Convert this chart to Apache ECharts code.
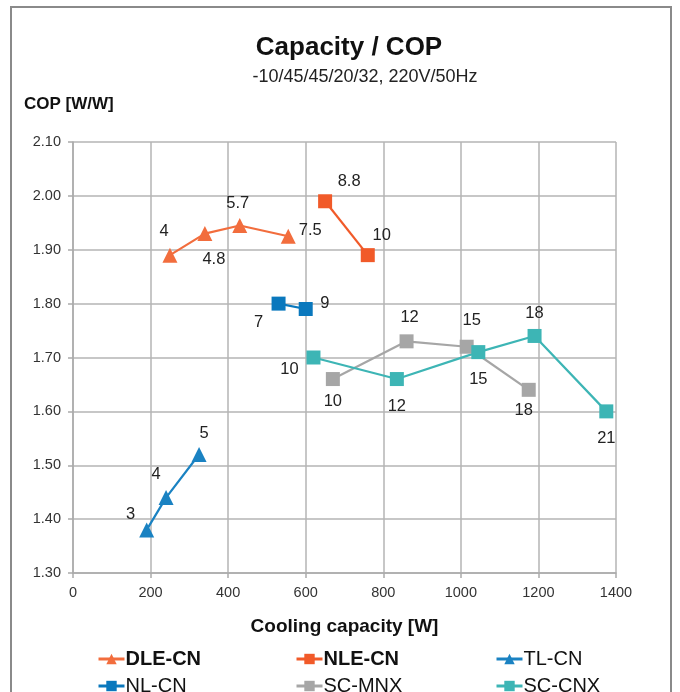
<!DOCTYPE html>
<html>
<head>
<meta charset="utf-8">
<script src="https://cdn.jsdelivr.net/npm/echarts@6/dist/echarts.min.js"></script>
<style>
html,body{margin:0;padding:0;background:#fff;}
#chart{width:680px;height:692px;}
</style>
</head>
<body>
<div id="chart"></div>
<script>
// ---- data ----
const seriesNames = ['DLE-CN', 'NLE-CN', 'TL-CN', 'NL-CN', 'SC-MNX', 'SC-CNX'];

const dleX = [250, 340, 430, 555];
const dleY = [1.89, 1.93, 1.945, 1.925];
const dleLab = ['4', '4.8', '5.7', '7.5'];

const nleX = [650, 760];
const nleY = [1.99, 1.89];
const nleLab = ['8.8', '10'];

const tlX = [190, 240, 325];
const tlY = [1.38, 1.44, 1.52];
const tlLab = ['3', '4', '5'];

const nlX = [530, 600];
const nlY = [1.80, 1.79];
const nlLab = ['7', '9'];

const mnxX = [670, 860, 1015, 1175];
const mnxY = [1.66, 1.73, 1.72, 1.64];
const mnxLab = ['10', '12', '15', '18'];

const cnxX = [620, 835, 1045, 1190, 1375];
const cnxY = [1.70, 1.66, 1.71, 1.74, 1.60];
const cnxLab = ['10', '12', '15', '18', '21'];

const xTicks = [0, 200, 400, 600, 800, 1000, 1200, 1400];
const yTicks = ['1.30', '1.40', '1.50', '1.60', '1.70', '1.80', '1.90', '2.00', '2.10'];

// ---- styling (kept apart from data) ----
const colors = {
  'DLE-CN': '#f26d3d',
  'NLE-CN': '#f15a29',
  'TL-CN': '#1a82c2',
  'NL-CN': '#0a78bd',
  'SC-MNX': '#a6a6a6',
  'SC-CNX': '#3db5b5'
};
const labelOffsets = {
  'DLE-CN': [[-6, -24], [9, 26], [-2, -22], [22, -6]],
  'NLE-CN': [[24, -20], [14, -20]],
  'TL-CN': [[-16, -15], [-10, -23], [5, -21]],
  'NL-CN': [[-20, 19], [19, -6]],
  'SC-MNX': [[0, 22], [3, -24], [5, -26], [-5, 21]],
  'SC-CNX': [[-24, 12], [0, 27], [0, 27], [0, -22], [0, 27]]
};

function build(name, xs, ys, labs, symbol, size) {
  const offs = labelOffsets[name];
  return {
    name: name,
    type: 'line',
    symbol: symbol,
    symbolSize: size,
    z: 3,
    lineStyle: { color: colors[name], width: 2.2 },
    itemStyle: { color: colors[name] },
    data: xs.map((x, i) => ({
      value: [x, ys[i]],
      label: {
        show: true,
        formatter: labs[i],
        position: 'inside',
        offset: offs[i],
        color: '#222',
        fontSize: 16.5,
        fontFamily: 'Liberation Sans, Arial, sans-serif'
      }
    }))
  };
}

const series = [
  build('DLE-CN', dleX, dleY, dleLab, 'triangle', 15),
  build('NLE-CN', nleX, nleY, nleLab, 'rect', 14),
  build('TL-CN', tlX, tlY, tlLab, 'triangle', 15),
  build('NL-CN', nlX, nlY, nlLab, 'rect', 14),
  build('SC-MNX', mnxX, mnxY, mnxLab, 'rect', 14),
  build('SC-CNX', cnxX, cnxY, cnxLab, 'rect', 14)
];

const font = 'Liberation Sans, Arial, sans-serif';
const legendPos = [
  { name: 'DLE-CN', left: 92, top: 644, bold: true },
  { name: 'NLE-CN', left: 290, top: 644, bold: true },
  { name: 'TL-CN', left: 490, top: 644, bold: false },
  { name: 'NL-CN', left: 92, top: 671, bold: false },
  { name: 'SC-MNX', left: 290, top: 671, bold: false },
  { name: 'SC-CNX', left: 490, top: 671, bold: false }
];

const chart = echarts.init(document.getElementById('chart'), null, { renderer: 'canvas' });
chart.setOption({
  animation: false,
  backgroundColor: '#fff',
  textStyle: { fontFamily: font },
  grid: { left: 73, right: 64, top: 142, bottom: 119, containLabel: false },
  title: [
    { text: 'Capacity / COP', left: 344, top: 30, textAlign: 'center',
      textStyle: { fontSize: 26, fontWeight: 'bold', color: '#111', fontFamily: font } },
    { text: '-10/45/45/20/32, 220V/50Hz', left: 360, top: 63, textAlign: 'center',
      textStyle: { fontSize: 18, fontWeight: 'normal', color: '#222', fontFamily: font } },
    { text: 'COP [W/W]', left: 19, top: 91,
      textStyle: { fontSize: 17, fontWeight: 'bold', color: '#111', fontFamily: font } }
  ],
  legend: legendPos.map(l => ({
    data: [l.name],
    left: l.left,
    top: l.top,
    itemWidth: 26,
    itemHeight: 13,
    itemGap: 2,
    lineStyle: { width: 3 },
    textStyle: { fontSize: 20, fontWeight: l.bold ? 'bold' : 'normal', color: '#111', fontFamily: font, padding: [0, 0, 0, -4] }
  })),
  xAxis: {
    type: 'value',
    min: xTicks[0],
    max: xTicks[xTicks.length - 1],
    interval: 200,
    name: 'Cooling capacity [W]',
    nameLocation: 'middle',
    nameGap: 44,
    nameTextStyle: { fontSize: 19, fontWeight: 'bold', color: '#111', fontFamily: font },
    axisLine: { show: true, lineStyle: { color: '#aaa', width: 1.5 } },
    axisTick: { show: true, length: 5, lineStyle: { color: '#aaa', width: 1.5 } },
    axisLabel: { fontSize: 14.5, color: '#333', margin: 12, formatter: v => String(v) },
    splitLine: { show: true, lineStyle: { color: '#b5b5b5', width: 1.5 } }
  },
  yAxis: {
    type: 'value',
    min: parseFloat(yTicks[0]),
    max: parseFloat(yTicks[yTicks.length - 1]),
    interval: 0.1,
    axisLine: { show: true, lineStyle: { color: '#aaa', width: 1.5 } },
    axisTick: { show: true, length: 5, lineStyle: { color: '#aaa', width: 1.5 } },
    axisLabel: { fontSize: 14.5, color: '#333', margin: 12, formatter: v => v.toFixed(2) },
    splitLine: { show: true, lineStyle: { color: '#b5b5b5', width: 1.5 } }
  },
  graphic: [
    { type: 'rect', shape: { x: 11, y: 7, width: 660, height: 700 },
      style: { fill: 'none', stroke: '#8a8a8a', lineWidth: 2 }, silent: true }
  ],
  series: series
});
</script>
</body>
</html>
